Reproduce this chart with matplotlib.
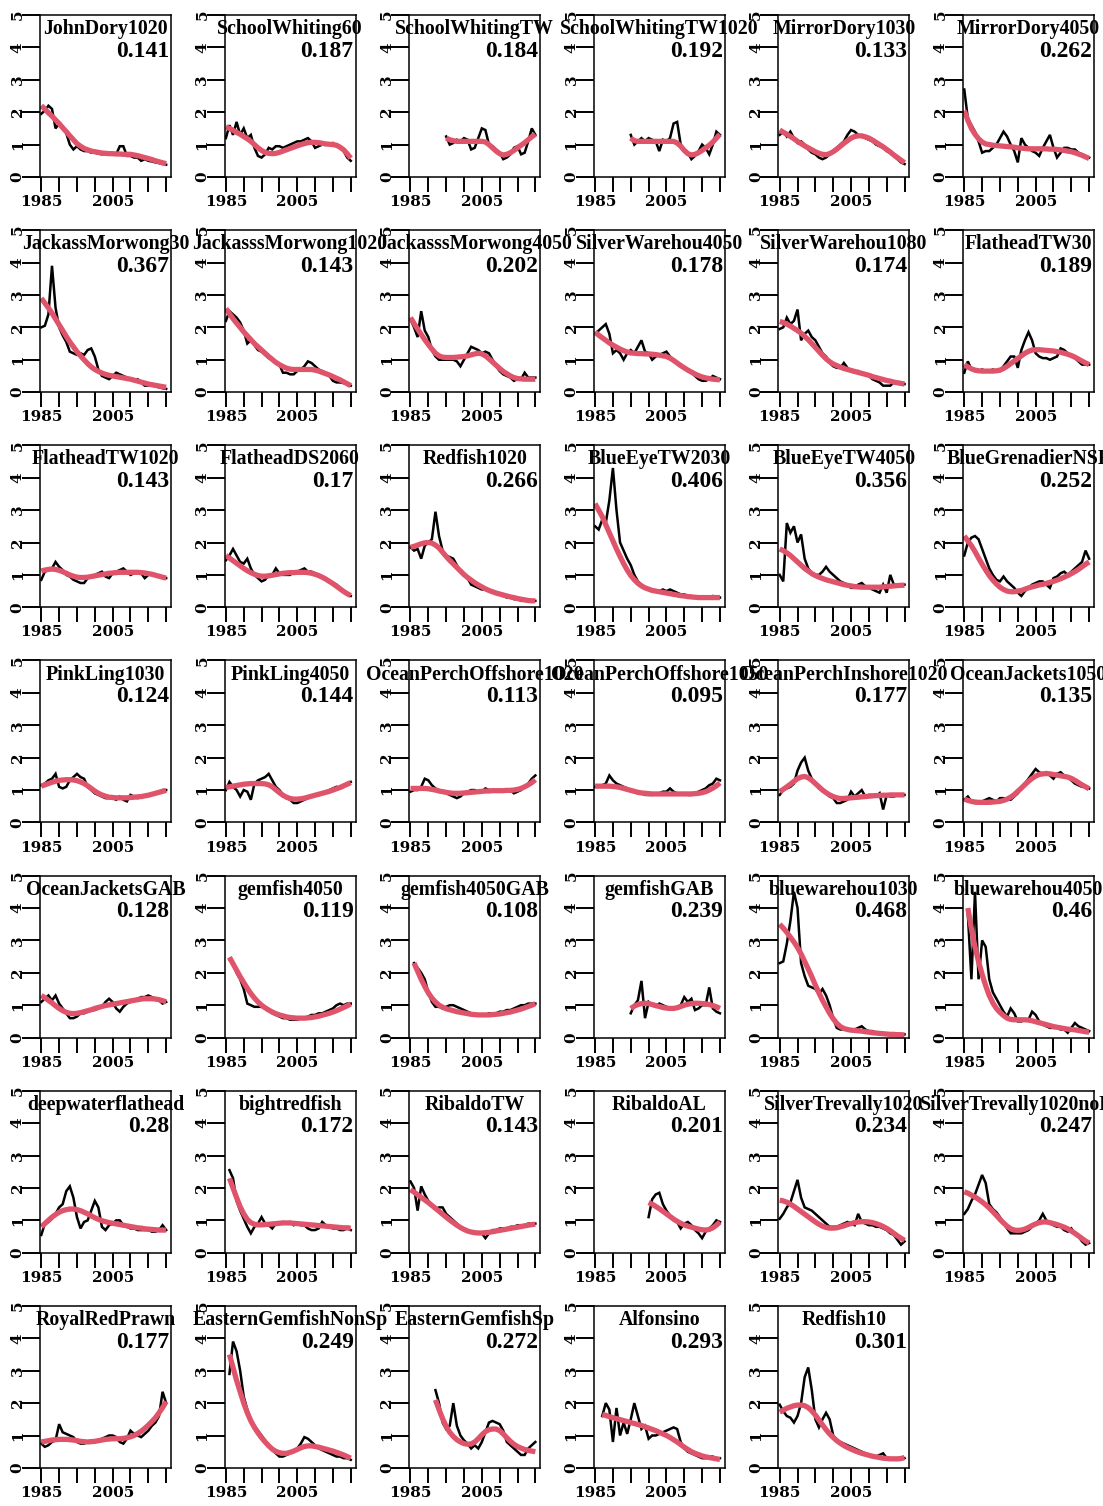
import numpy as np
import matplotlib
matplotlib.use("Agg")
import matplotlib.pyplot as plt

# standardised CPUE (black) and smoothed fit (red), one panel per fishery
obs_JohnDory1020 = [1.95, 2.05, 2.2, 2.1, 1.5, 1.65, 1.55, 1.35, 1.0, 0.85, 0.95, 0.85, 0.8, 0.8, 0.75, 0.75, 0.72, 0.7,
                    0.72, 0.7, 0.72, 0.7, 0.95, 0.95, 0.65, 0.65, 0.6, 0.6, 0.5, 0.55, 0.5, 0.48, 0.45, 0.43, 0.4, 0.38]
fit_JohnDory1020 = [2.2, 2.1, 1.98, 1.88, 1.76, 1.65, 1.52, 1.4, 1.27, 1.15, 1.03, 0.95, 0.88, 0.84, 0.8, 0.78, 0.76, 0.74,
                    0.73, 0.72, 0.72, 0.71, 0.71, 0.7, 0.7, 0.7, 0.68, 0.66, 0.63, 0.6, 0.57, 0.54, 0.5, 0.47, 0.44, 0.41]

obs_SchoolWhiting60 = [1.2, 1.6, 1.3, 1.7, 1.3, 1.5, 1.2, 1.3, 0.9, 0.65, 0.6, 0.7, 0.9, 0.85, 0.95, 0.95, 0.9, 0.95,
                       1.0, 1.05, 1.1, 1.1, 1.15, 1.2, 1.1, 0.9, 0.95, 1.0, 1.0, 1.0, 1.05, 0.95, 0.9, 0.8, 0.6, 0.5]
fit_SchoolWhiting60 = [1.55, 1.5, 1.44, 1.38, 1.32, 1.25, 1.18, 1.1, 1.0, 0.9, 0.82, 0.76, 0.73, 0.72, 0.73, 0.76, 0.8, 0.84,
                       0.88, 0.92, 0.96, 1.0, 1.03, 1.06, 1.07, 1.07, 1.06, 1.04, 1.02, 1.01, 1.0, 0.98, 0.92, 0.84, 0.72, 0.58]

obs_SchoolWhitingTW = [1.25, 1.0, 1.05, 1.15, 1.1, 1.2, 1.15, 0.85, 0.9, 1.2, 1.5, 1.45, 1.0, 0.95, 0.85, 0.75, 0.55, 0.6,
                       0.7, 0.9, 0.95, 0.7, 0.75, 1.1, 1.5, 1.3]
fit_SchoolWhitingTW = [1.2, 1.15, 1.12, 1.1, 1.1, 1.1, 1.1, 1.1, 1.1, 1.1, 1.1, 1.08, 1.0, 0.9, 0.8, 0.72, 0.68, 0.7,
                       0.75, 0.82, 0.9, 0.98, 1.06, 1.15, 1.24, 1.32]

obs_SchoolWhitingTW1020 = [1.3, 1.0, 1.1, 1.2, 1.1, 1.2, 1.15, 1.1, 0.8, 1.15, 1.1, 1.2, 1.65, 1.7, 1.0, 0.85, 0.75, 0.55,
                           0.65, 0.8, 1.0, 0.9, 0.7, 1.0, 1.4, 1.3]
fit_SchoolWhitingTW1020 = [1.2, 1.12, 1.1, 1.1, 1.1, 1.1, 1.1, 1.1, 1.1, 1.1, 1.1, 1.1, 1.1, 1.05, 0.95, 0.82, 0.72, 0.68,
                           0.7, 0.75, 0.82, 0.9, 0.98, 1.08, 1.2, 1.32]

obs_MirrorDory1030 = [1.3, 1.4, 1.25, 1.4, 1.2, 1.05, 1.1, 1.0, 0.85, 0.75, 0.7, 0.6, 0.55, 0.6, 0.7, 0.8, 0.9, 1.0,
                      1.1, 1.3, 1.45, 1.4, 1.3, 1.25, 1.2, 1.15, 1.1, 1.0, 0.95, 0.9, 0.8, 0.75, 0.65, 0.55, 0.45, 0.4]
fit_MirrorDory1030 = [1.45, 1.38, 1.32, 1.25, 1.18, 1.1, 1.03, 0.96, 0.9, 0.84, 0.78, 0.73, 0.7, 0.69, 0.72, 0.78, 0.86, 0.95,
                      1.04, 1.12, 1.2, 1.25, 1.27, 1.27, 1.24, 1.2, 1.14, 1.07, 1.0, 0.93, 0.85, 0.77, 0.68, 0.6, 0.52, 0.44]

obs_MirrorDory4050 = [2.7, 1.8, 1.6, 1.4, 1.1, 0.75, 0.8, 0.8, 0.9, 1.0, 1.2, 1.4, 1.25, 1.0, 0.8, 0.45, 1.2, 1.0,
                      0.9, 0.8, 0.75, 0.65, 0.9, 1.1, 1.3, 0.9, 0.6, 0.75, 0.9, 0.9, 0.85, 0.85, 0.75, 0.7, 0.65, 0.6]
fit_MirrorDory4050 = [2.05, 1.75, 1.5, 1.32, 1.18, 1.08, 1.02, 1.0, 0.98, 0.97, 0.96, 0.95, 0.94, 0.93, 0.92, 0.9, 0.89, 0.88,
                      0.87, 0.87, 0.87, 0.87, 0.87, 0.87, 0.86, 0.86, 0.85, 0.84, 0.82, 0.8, 0.78, 0.75, 0.71, 0.67, 0.62, 0.57]

obs_JackassMorwong30 = [2.0, 2.05, 2.4, 3.9, 2.6, 2.0, 1.75, 1.55, 1.25, 1.2, 1.15, 1.2, 1.15, 1.3, 1.35, 1.1, 0.7, 0.5,
                        0.45, 0.4, 0.5, 0.6, 0.55, 0.5, 0.45, 0.4, 0.35, 0.4, 0.3, 0.2, 0.2, 0.2, 0.18, 0.15, 0.12, 0.1]
fit_JackassMorwong30 = [2.9, 2.75, 2.6, 2.44, 2.26, 2.08, 1.9, 1.72, 1.55, 1.4, 1.25, 1.12, 1.0, 0.88, 0.78, 0.7, 0.64, 0.59,
                        0.55, 0.52, 0.5, 0.48, 0.46, 0.44, 0.42, 0.4, 0.37, 0.34, 0.31, 0.28, 0.25, 0.23, 0.21, 0.19, 0.17, 0.15]

obs_JackasssMorwong1020 = [2.2, 2.5, 2.4, 2.3, 2.15, 1.9, 1.5, 1.6, 1.45, 1.3, 1.25, 1.15, 1.05, 1.0, 0.95, 0.85, 0.6, 0.6,
                           0.55, 0.55, 0.65, 0.7, 0.8, 0.95, 0.9, 0.8, 0.7, 0.65, 0.6, 0.5, 0.35, 0.3, 0.3, 0.28, 0.25, 0.2]
fit_JackasssMorwong1020 = [2.58, 2.42, 2.27, 2.13, 2.0, 1.86, 1.74, 1.62, 1.5, 1.4, 1.3, 1.2, 1.1, 1.01, 0.92, 0.85, 0.79, 0.74,
                           0.71, 0.7, 0.7, 0.7, 0.7, 0.7, 0.7, 0.68, 0.65, 0.61, 0.57, 0.53, 0.48, 0.43, 0.38, 0.32, 0.26, 0.2]

obs_JackasssMorwong4050 = [2.25, 2.0, 1.7, 2.5, 1.9, 1.7, 1.3, 1.1, 1.0, 1.0, 1.0, 1.0, 1.0, 0.95, 0.8, 1.0, 1.2, 1.4,
                           1.35, 1.3, 1.2, 1.25, 1.2, 1.0, 0.8, 0.65, 0.55, 0.5, 0.45, 0.35, 0.4, 0.4, 0.6, 0.45, 0.45, 0.45]
fit_JackasssMorwong4050 = [2.3, 2.12, 1.95, 1.78, 1.62, 1.47, 1.33, 1.2, 1.12, 1.08, 1.07, 1.07, 1.07, 1.08, 1.09, 1.1, 1.12, 1.15,
                           1.18, 1.2, 1.18, 1.12, 1.03, 0.93, 0.83, 0.73, 0.64, 0.57, 0.5, 0.45, 0.42, 0.41, 0.4, 0.4, 0.4, 0.4]

obs_SilverWarehou4050 = [1.8, 1.9, 2.0, 2.1, 1.8, 1.2, 1.3, 1.2, 1.0, 1.2, 1.3, 1.2, 1.4, 1.6, 1.25, 1.2, 1.0, 1.1,
                         1.15, 1.2, 1.25, 1.1, 1.0, 0.9, 0.85, 0.75, 0.65, 0.6, 0.5, 0.4, 0.35, 0.35, 0.4, 0.5, 0.45, 0.4]
fit_SilverWarehou4050 = [1.85, 1.76, 1.68, 1.6, 1.52, 1.45, 1.39, 1.33, 1.28, 1.24, 1.21, 1.2, 1.19, 1.19, 1.18, 1.18, 1.17, 1.16,
                         1.14, 1.12, 1.1, 1.05, 0.98, 0.9, 0.82, 0.75, 0.68, 0.62, 0.56, 0.51, 0.47, 0.44, 0.42, 0.4, 0.39, 0.38]

obs_SilverWarehou1080 = [1.95, 2.0, 2.3, 2.1, 2.2, 2.55, 1.6, 1.8, 1.9, 1.7, 1.6, 1.4, 1.2, 1.1, 0.9, 0.8, 0.75, 0.75,
                         0.9, 0.75, 0.65, 0.6, 0.65, 0.55, 0.55, 0.5, 0.4, 0.35, 0.3, 0.2, 0.2, 0.2, 0.3, 0.3, 0.25, 0.25]
fit_SilverWarehou1080 = [2.18, 2.15, 2.1, 2.04, 1.97, 1.9, 1.82, 1.72, 1.62, 1.5, 1.38, 1.26, 1.14, 1.03, 0.94, 0.87, 0.82, 0.77,
                         0.73, 0.7, 0.67, 0.64, 0.61, 0.58, 0.55, 0.52, 0.48, 0.45, 0.42, 0.39, 0.36, 0.34, 0.31, 0.29, 0.27, 0.25]

obs_FlatheadTW30 = [0.6, 0.95, 0.7, 0.65, 0.65, 0.7, 0.65, 0.65, 0.7, 0.65, 0.65, 0.8, 0.95, 1.1, 1.1, 0.75, 1.3, 1.6,
                    1.85, 1.6, 1.2, 1.1, 1.05, 1.05, 1.0, 1.05, 1.1, 1.35, 1.3, 1.2, 1.1, 1.05, 0.95, 0.85, 0.85, 0.85]
fit_FlatheadTW30 = [0.85, 0.78, 0.72, 0.68, 0.66, 0.65, 0.65, 0.65, 0.65, 0.66, 0.68, 0.73, 0.8, 0.88, 0.96, 1.04, 1.12, 1.2,
                    1.26, 1.3, 1.31, 1.31, 1.3, 1.29, 1.28, 1.27, 1.25, 1.23, 1.2, 1.17, 1.13, 1.08, 1.02, 0.96, 0.9, 0.85]

obs_FlatheadTW1020 = [0.85, 1.1, 1.15, 1.2, 1.4, 1.25, 1.15, 1.0, 0.95, 0.85, 0.8, 0.75, 0.75, 0.9, 0.95, 1.0, 1.05, 1.1,
                      0.95, 0.9, 1.05, 1.1, 1.15, 1.2, 1.1, 1.0, 1.05, 1.1, 1.05, 0.9, 1.0, 1.05, 1.0, 0.95, 0.9, 0.9]
fit_FlatheadTW1020 = [1.12, 1.15, 1.17, 1.18, 1.17, 1.14, 1.1, 1.05, 1.0, 0.96, 0.93, 0.92, 0.92, 0.93, 0.95, 0.97, 0.99, 1.01,
                      1.03, 1.05, 1.06, 1.07, 1.08, 1.08, 1.08, 1.08, 1.08, 1.08, 1.07, 1.06, 1.04, 1.02, 0.99, 0.96, 0.93, 0.9]

obs_FlatheadDS2060 = [1.45, 1.6, 1.8, 1.6, 1.4, 1.35, 1.5, 1.2, 1.0, 0.9, 0.8, 0.85, 1.0, 1.0, 1.2, 1.05, 1.0, 1.0,
                      1.0, 1.1, 1.1, 1.15, 1.2, 1.1, 1.1, 1.05, 1.0, 0.95, 0.9, 0.8, 0.75, 0.7, 0.6, 0.5, 0.4, 0.35]
fit_FlatheadDS2060 = [1.6, 1.52, 1.44, 1.36, 1.28, 1.2, 1.13, 1.07, 1.02, 0.98, 0.96, 0.96, 0.97, 0.99, 1.01, 1.03, 1.05, 1.06,
                      1.07, 1.07, 1.08, 1.08, 1.08, 1.07, 1.05, 1.02, 0.98, 0.93, 0.87, 0.8, 0.73, 0.65, 0.57, 0.49, 0.42, 0.36]

obs_Redfish1020 = [1.85, 1.75, 1.8, 1.5, 1.9, 2.0, 2.1, 2.95, 2.2, 1.75, 1.6, 1.55, 1.5, 1.3, 1.1, 1.0, 0.9, 0.7,
                   0.65, 0.6, 0.55, 0.55, 0.5, 0.45, 0.45, 0.4, 0.35, 0.3, 0.3, 0.25, 0.25, 0.2, 0.2, 0.2, 0.2, 0.2]
fit_Redfish1020 = [1.85, 1.88, 1.92, 1.96, 1.99, 2.0, 1.98, 1.92, 1.83, 1.7, 1.57, 1.45, 1.34, 1.23, 1.12, 1.01, 0.92, 0.84,
                   0.76, 0.69, 0.63, 0.57, 0.52, 0.48, 0.44, 0.41, 0.38, 0.35, 0.32, 0.3, 0.27, 0.25, 0.23, 0.21, 0.2, 0.2]

obs_BlueEyeTW2030 = [2.5, 2.4, 2.7, 2.6, 3.3, 4.3, 3.0, 2.0, 1.75, 1.5, 1.3, 1.0, 0.8, 0.7, 0.6, 0.55, 0.5, 0.5,
                     0.5, 0.55, 0.5, 0.55, 0.5, 0.45, 0.4, 0.4, 0.35, 0.35, 0.3, 0.3, 0.3, 0.3, 0.3, 0.35, 0.3, 0.3]
fit_BlueEyeTW2030 = [3.2, 3.0, 2.8, 2.55, 2.3, 2.05, 1.8, 1.57, 1.35, 1.15, 0.98, 0.85, 0.74, 0.66, 0.6, 0.56, 0.52, 0.5,
                     0.48, 0.46, 0.44, 0.42, 0.4, 0.38, 0.36, 0.35, 0.33, 0.32, 0.31, 0.3, 0.3, 0.3, 0.3, 0.3, 0.3, 0.3]

obs_BlueEyeTW4050 = [1.0, 0.8, 2.6, 2.3, 2.5, 2.0, 2.25, 1.5, 1.2, 1.05, 1.0, 1.0, 1.1, 1.25, 1.1, 1.0, 0.9, 0.8,
                     0.75, 0.7, 0.6, 0.6, 0.7, 0.75, 0.65, 0.6, 0.55, 0.5, 0.45, 0.7, 0.45, 1.0, 0.7, 0.7, 0.7, 0.7]
fit_BlueEyeTW4050 = [1.8, 1.75, 1.68, 1.6, 1.5, 1.4, 1.3, 1.2, 1.12, 1.04, 0.98, 0.93, 0.89, 0.85, 0.82, 0.79, 0.76, 0.73,
                     0.7, 0.68, 0.66, 0.64, 0.63, 0.62, 0.62, 0.62, 0.62, 0.62, 0.62, 0.63, 0.64, 0.65, 0.66, 0.67, 0.68, 0.68]

obs_BlueGrenadierNS = [1.6, 2.0, 2.15, 2.2, 2.1, 1.8, 1.5, 1.2, 1.0, 0.85, 0.8, 0.95, 0.8, 0.7, 0.6, 0.45, 0.35, 0.5,
                       0.6, 0.7, 0.75, 0.8, 0.8, 0.7, 0.6, 0.9, 0.95, 1.05, 1.1, 1.0, 1.1, 1.2, 1.3, 1.4, 1.75, 1.5]
fit_BlueGrenadierNS = [2.2, 2.05, 1.9, 1.72, 1.52, 1.33, 1.15, 0.98, 0.84, 0.72, 0.62, 0.55, 0.5, 0.48, 0.48, 0.5, 0.52, 0.56,
                       0.6, 0.63, 0.66, 0.69, 0.71, 0.74, 0.77, 0.8, 0.84, 0.88, 0.93, 0.98, 1.04, 1.1, 1.17, 1.25, 1.33, 1.4]

obs_PinkLing1030 = [1.15, 1.2, 1.3, 1.35, 1.5, 1.1, 1.05, 1.1, 1.3, 1.4, 1.5, 1.4, 1.35, 1.1, 1.0, 0.9, 0.85, 0.8,
                    0.75, 0.75, 0.75, 0.7, 0.8, 0.7, 0.65, 0.85, 0.8, 0.75, 0.8, 0.8, 0.85, 0.9, 0.9, 0.95, 1.0, 1.0]
fit_PinkLing1030 = [1.12, 1.16, 1.2, 1.24, 1.27, 1.3, 1.31, 1.32, 1.32, 1.31, 1.29, 1.25, 1.2, 1.13, 1.05, 0.97, 0.9, 0.85,
                    0.81, 0.78, 0.77, 0.76, 0.76, 0.76, 0.76, 0.77, 0.78, 0.79, 0.8, 0.82, 0.84, 0.87, 0.9, 0.93, 0.96, 0.99]

obs_PinkLing4050 = [1.0, 1.25, 1.1, 1.0, 0.8, 1.0, 0.95, 0.7, 1.2, 1.3, 1.35, 1.4, 1.5, 1.3, 1.1, 1.0, 0.85, 0.75,
                    0.7, 0.6, 0.6, 0.65, 0.7, 0.75, 0.8, 0.85, 0.9, 0.9, 0.95, 1.0, 1.05, 1.1, 1.05, 1.1, 1.2, 1.25]
fit_PinkLing4050 = [1.08, 1.1, 1.12, 1.14, 1.16, 1.18, 1.19, 1.2, 1.2, 1.2, 1.2, 1.19, 1.16, 1.1, 1.01, 0.92, 0.84, 0.78,
                    0.74, 0.72, 0.72, 0.73, 0.75, 0.78, 0.81, 0.84, 0.87, 0.9, 0.93, 0.96, 1.0, 1.04, 1.08, 1.13, 1.18, 1.23]

obs_OceanPerchOffshore1020 = [0.95, 1.0, 1.0, 1.1, 1.35, 1.3, 1.15, 1.05, 1.0, 0.95, 0.9, 0.85, 0.8, 0.75, 0.8, 0.9, 0.95, 1.0,
                              1.0, 0.95, 0.95, 1.05, 1.0, 1.0, 1.0, 1.0, 0.95, 1.0, 1.0, 0.9, 0.95, 1.0, 1.1, 1.2, 1.35, 1.45]
fit_OceanPerchOffshore1020 = [1.05, 1.05, 1.05, 1.05, 1.05, 1.04, 1.02, 1.0, 0.97, 0.95, 0.93, 0.91, 0.9, 0.9, 0.9, 0.91, 0.92, 0.93,
                              0.94, 0.95, 0.96, 0.97, 0.97, 0.98, 0.98, 0.98, 0.98, 0.99, 0.99, 1.0, 1.02, 1.05, 1.1, 1.16, 1.23, 1.32]

obs_OceanPerchOffshore1050 = [1.1, 1.1, 1.15, 1.2, 1.45, 1.3, 1.2, 1.15, 1.1, 1.05, 1.0, 0.95, 0.9, 0.9, 0.85, 0.85, 0.85, 0.9,
                              0.9, 0.95, 0.95, 1.05, 0.95, 0.9, 0.9, 0.9, 0.85, 0.85, 0.9, 0.95, 1.0, 1.05, 1.15, 1.2, 1.35, 1.3]
fit_OceanPerchOffshore1050 = [1.12, 1.12, 1.12, 1.12, 1.12, 1.11, 1.1, 1.08, 1.05, 1.02, 0.99, 0.96, 0.93, 0.91, 0.9, 0.89, 0.88, 0.88,
                              0.88, 0.88, 0.88, 0.88, 0.88, 0.88, 0.88, 0.88, 0.88, 0.88, 0.89, 0.9, 0.92, 0.95, 1.0, 1.06, 1.13, 1.22]

obs_OceanPerchInshore1020 = [0.85, 1.0, 1.05, 1.1, 1.2, 1.6, 1.85, 2.0, 1.6, 1.35, 1.2, 1.05, 1.0, 0.9, 0.8, 0.75, 0.6, 0.6,
                             0.65, 0.7, 0.95, 0.8, 0.9, 1.0, 0.8, 0.85, 0.85, 0.8, 0.9, 0.4, 0.85, 0.8, 0.8, 0.85, 0.85, 0.85]
fit_OceanPerchInshore1020 = [0.95, 1.02, 1.1, 1.18, 1.27, 1.35, 1.4, 1.42, 1.38, 1.3, 1.2, 1.1, 1.0, 0.92, 0.85, 0.8, 0.76, 0.74,
                             0.74, 0.75, 0.76, 0.77, 0.78, 0.79, 0.8, 0.81, 0.82, 0.83, 0.83, 0.84, 0.84, 0.85, 0.85, 0.85, 0.85, 0.85]

obs_OceanJackets1050 = [0.7, 0.8, 0.65, 0.6, 0.6, 0.65, 0.7, 0.75, 0.7, 0.65, 0.75, 0.75, 0.7, 0.7, 0.8, 0.9, 1.05, 1.2,
                        1.35, 1.5, 1.65, 1.55, 1.5, 1.55, 1.45, 1.35, 1.5, 1.55, 1.45, 1.4, 1.3, 1.2, 1.15, 1.1, 1.1, 1.05]
fit_OceanJackets1050 = [0.72, 0.68, 0.65, 0.63, 0.62, 0.62, 0.62, 0.62, 0.63, 0.64, 0.65, 0.68, 0.72, 0.78, 0.86, 0.96, 1.06, 1.17,
                        1.27, 1.36, 1.43, 1.48, 1.5, 1.51, 1.5, 1.48, 1.46, 1.44, 1.42, 1.4, 1.36, 1.3, 1.23, 1.16, 1.1, 1.04]

obs_OceanJacketsGAB = [1.1, 1.2, 1.3, 1.15, 1.3, 1.05, 0.9, 0.75, 0.6, 0.6, 0.65, 0.75, 0.75, 0.8, 0.85, 0.85, 0.9, 0.95,
                       1.1, 1.2, 1.1, 0.9, 0.8, 0.95, 1.05, 1.1, 1.15, 1.2, 1.25, 1.25, 1.3, 1.25, 1.2, 1.15, 1.05, 1.1]
fit_OceanJacketsGAB = [1.3, 1.23, 1.15, 1.07, 0.98, 0.9, 0.83, 0.78, 0.75, 0.74, 0.75, 0.77, 0.8, 0.83, 0.86, 0.9, 0.93, 0.96,
                       0.99, 1.01, 1.03, 1.05, 1.07, 1.09, 1.11, 1.13, 1.15, 1.17, 1.19, 1.2, 1.2, 1.2, 1.19, 1.17, 1.14, 1.1]

obs_gemfish4050 = [2.4, 2.3, 2.0, 1.8, 1.5, 1.05, 1.0, 0.95, 0.95, 0.95, 0.9, 0.85, 0.75, 0.7, 0.65, 0.6, 0.6, 0.55,
                   0.55, 0.55, 0.6, 0.6, 0.65, 0.7, 0.7, 0.75, 0.75, 0.8, 0.85, 0.9, 1.0, 1.05, 1.0, 1.05, 1.05]
fit_gemfish4050 = [2.48, 2.28, 2.08, 1.88, 1.7, 1.52, 1.36, 1.22, 1.1, 1.0, 0.92, 0.85, 0.79, 0.74, 0.7, 0.67, 0.64, 0.62,
                   0.61, 0.6, 0.6, 0.6, 0.61, 0.62, 0.64, 0.66, 0.69, 0.72, 0.75, 0.79, 0.83, 0.88, 0.93, 0.98, 1.04]

obs_gemfish4050GAB = [2.3, 2.15, 2.0, 1.8, 1.4, 1.1, 0.95, 0.95, 0.9, 0.95, 1.0, 1.0, 0.95, 0.9, 0.85, 0.8, 0.75, 0.7,
                      0.7, 0.7, 0.7, 0.75, 0.75, 0.75, 0.8, 0.8, 0.85, 0.85, 0.9, 0.95, 1.0, 1.0, 1.05, 1.05, 1.05]
fit_gemfish4050GAB = [2.3, 2.05, 1.8, 1.58, 1.38, 1.22, 1.1, 1.0, 0.94, 0.89, 0.86, 0.83, 0.8, 0.78, 0.76, 0.74, 0.72, 0.71,
                      0.7, 0.7, 0.7, 0.7, 0.71, 0.72, 0.73, 0.75, 0.77, 0.79, 0.82, 0.85, 0.88, 0.92, 0.96, 1.0, 1.05]

obs_gemfishGAB = [0.75, 1.0, 1.15, 1.75, 0.6, 1.1, 1.0, 0.95, 1.05, 1.0, 0.95, 0.9, 0.9, 0.95, 1.0, 1.25, 1.1, 1.2,
                  0.85, 0.9, 1.0, 1.0, 1.55, 0.9, 0.8, 0.75]
fit_gemfishGAB = [0.9, 0.97, 1.02, 1.05, 1.06, 1.05, 1.02, 0.99, 0.96, 0.93, 0.91, 0.9, 0.9, 0.92, 0.96, 1.0, 1.03, 1.05,
                  1.06, 1.06, 1.05, 1.04, 1.02, 0.99, 0.95, 0.9]

obs_bluewarehou1030 = [2.3, 2.35, 2.9, 3.6, 4.5, 4.0, 2.3, 1.9, 1.6, 1.55, 1.5, 1.35, 1.5, 1.3, 1.0, 0.6, 0.3, 0.25,
                       0.25, 0.25, 0.25, 0.25, 0.3, 0.35, 0.25, 0.2, 0.2, 0.15, 0.15, 0.12, 0.1, 0.1, 0.1, 0.1, 0.1, 0.1]
fit_bluewarehou1030 = [3.5, 3.38, 3.25, 3.1, 2.95, 2.78, 2.58, 2.35, 2.12, 1.88, 1.62, 1.38, 1.15, 0.95, 0.75, 0.58, 0.44, 0.34,
                       0.28, 0.25, 0.23, 0.22, 0.21, 0.2, 0.18, 0.17, 0.15, 0.14, 0.13, 0.12, 0.11, 0.1, 0.1, 0.09, 0.09, 0.08]

obs_bluewarehou4050 = [3.8, 1.8, 4.5, 1.8, 3.0, 2.8, 1.8, 1.4, 1.2, 1.0, 0.8, 0.65, 0.9, 0.75, 0.5, 0.5, 0.55, 0.55,
                       0.8, 0.7, 0.5, 0.4, 0.35, 0.3, 0.3, 0.3, 0.25, 0.25, 0.15, 0.3, 0.45, 0.35, 0.3, 0.25, 0.2]
fit_bluewarehou4050 = [4.0, 3.35, 2.8, 2.35, 1.95, 1.6, 1.3, 1.07, 0.9, 0.78, 0.68, 0.6, 0.56, 0.55, 0.55, 0.55, 0.55, 0.54,
                       0.52, 0.49, 0.46, 0.43, 0.4, 0.37, 0.34, 0.32, 0.3, 0.28, 0.26, 0.25, 0.24, 0.22, 0.2, 0.18, 0.17]

obs_deepwaterflathead = [0.55, 0.9, 0.95, 1.05, 1.2, 1.4, 1.5, 1.9, 2.05, 1.7, 1.1, 0.75, 0.95, 1.0, 1.3, 1.6, 1.4, 0.8,
                         0.7, 0.85, 0.9, 1.0, 1.0, 0.85, 0.8, 0.75, 0.75, 0.7, 0.7, 0.7, 0.7, 0.65, 0.65, 0.7, 0.85, 0.7]
fit_deepwaterflathead = [0.8, 0.9, 1.0, 1.1, 1.18, 1.25, 1.3, 1.33, 1.35, 1.35, 1.33, 1.3, 1.25, 1.2, 1.14, 1.08, 1.03, 0.99,
                         0.96, 0.93, 0.91, 0.89, 0.87, 0.85, 0.83, 0.81, 0.79, 0.77, 0.76, 0.74, 0.73, 0.72, 0.71, 0.7, 0.7, 0.7]

obs_bightredfish = [2.55, 2.3, 1.6, 1.3, 1.05, 0.8, 0.6, 0.8, 0.9, 1.1, 0.9, 0.85, 0.75, 0.9, 0.9, 0.95, 0.9, 0.95,
                    0.85, 0.9, 0.85, 0.85, 0.75, 0.7, 0.7, 0.75, 0.95, 0.85, 0.8, 0.75, 0.75, 0.7, 0.7, 0.75, 0.7]
fit_bightredfish = [2.3, 2.0, 1.7, 1.42, 1.2, 1.03, 0.93, 0.88, 0.86, 0.86, 0.87, 0.88, 0.89, 0.9, 0.91, 0.92, 0.92, 0.92,
                    0.91, 0.9, 0.89, 0.88, 0.87, 0.86, 0.85, 0.84, 0.83, 0.82, 0.81, 0.8, 0.79, 0.78, 0.77, 0.77, 0.76]

obs_RibaldoTW = [2.2, 2.0, 1.3, 2.05, 1.8, 1.6, 1.45, 1.35, 1.4, 1.4, 1.2, 1.1, 1.0, 0.9, 0.8, 0.75, 0.7, 0.65,
                 0.65, 0.6, 0.6, 0.45, 0.6, 0.7, 0.7, 0.75, 0.75, 0.75, 0.8, 0.8, 0.85, 0.85, 0.85, 0.9, 0.9, 0.9]
fit_RibaldoTW = [1.95, 1.87, 1.79, 1.71, 1.63, 1.55, 1.46, 1.37, 1.28, 1.19, 1.1, 1.01, 0.93, 0.85, 0.78, 0.72, 0.67, 0.64,
                 0.62, 0.61, 0.61, 0.62, 0.63, 0.65, 0.67, 0.69, 0.71, 0.73, 0.75, 0.77, 0.79, 0.81, 0.83, 0.85, 0.87, 0.88]

obs_RibaldoAL = [1.1, 1.65, 1.8, 1.85, 1.5, 1.3, 1.15, 1.0, 0.95, 0.75, 0.9, 0.95, 0.85, 0.7, 0.6, 0.45, 0.65, 0.75,
                 0.85, 1.0, 0.95]
fit_RibaldoAL = [1.55, 1.5, 1.43, 1.36, 1.28, 1.2, 1.12, 1.04, 0.97, 0.91, 0.86, 0.82, 0.79, 0.76, 0.73, 0.71, 0.7, 0.72,
                 0.77, 0.85, 0.95]

obs_SilverTrevally1020 = [1.05, 1.2, 1.4, 1.55, 1.9, 2.25, 1.7, 1.4, 1.35, 1.3, 1.2, 1.1, 1.0, 0.9, 0.8, 0.8, 0.8, 0.85,
                          0.9, 0.95, 0.9, 0.85, 1.2, 0.95, 0.9, 0.85, 0.85, 0.8, 0.8, 0.75, 0.7, 0.6, 0.55, 0.4, 0.25, 0.35]
fit_SilverTrevally1020 = [1.62, 1.6, 1.56, 1.5, 1.43, 1.35, 1.27, 1.19, 1.11, 1.03, 0.95, 0.88, 0.82, 0.78, 0.76, 0.76, 0.77, 0.8,
                          0.83, 0.87, 0.9, 0.93, 0.95, 0.96, 0.96, 0.95, 0.93, 0.9, 0.86, 0.81, 0.75, 0.68, 0.6, 0.52, 0.45, 0.38]

obs_SilverTrevally1020no = [1.2, 1.35, 1.6, 1.8, 2.1, 2.4, 2.15, 1.5, 1.35, 1.25, 1.1, 0.9, 0.75, 0.6, 0.6, 0.6, 0.6, 0.65,
                            0.7, 0.8, 0.9, 1.0, 1.2, 1.0, 0.9, 0.85, 0.8, 0.8, 0.7, 0.65, 0.75, 0.6, 0.5, 0.35, 0.25, 0.3]
fit_SilverTrevally1020no = [1.88, 1.84, 1.78, 1.72, 1.65, 1.57, 1.48, 1.38, 1.27, 1.15, 1.03, 0.92, 0.82, 0.74, 0.7, 0.69, 0.7, 0.73,
                            0.78, 0.84, 0.89, 0.93, 0.95, 0.95, 0.93, 0.9, 0.87, 0.83, 0.79, 0.74, 0.67, 0.6, 0.52, 0.44, 0.36, 0.3]

obs_RoyalRedPrawn = [0.75, 0.65, 0.7, 0.8, 0.85, 1.35, 1.1, 1.05, 1.0, 0.95, 0.8, 0.75, 0.75, 0.8, 0.85, 0.85, 0.85, 0.9,
                     0.95, 1.0, 1.0, 0.95, 0.8, 0.75, 0.9, 1.15, 1.05, 1.0, 0.95, 1.05, 1.15, 1.3, 1.4, 1.6, 2.35, 2.0]
fit_RoyalRedPrawn = [0.8, 0.82, 0.84, 0.86, 0.87, 0.88, 0.88, 0.88, 0.87, 0.86, 0.84, 0.82, 0.81, 0.8, 0.81, 0.82, 0.84, 0.86,
                     0.88, 0.89, 0.9, 0.9, 0.9, 0.91, 0.93, 0.96, 1.0, 1.06, 1.13, 1.22, 1.32, 1.43, 1.55, 1.7, 1.86, 2.05]

obs_EasternGemfishNonSp = [2.9, 3.9, 3.6, 3.0, 2.2, 1.8, 1.5, 1.3, 1.15, 1.0, 0.85, 0.7, 0.55, 0.45, 0.35, 0.35, 0.4, 0.45,
                           0.5, 0.6, 0.75, 0.95, 0.9, 0.8, 0.7, 0.6, 0.55, 0.5, 0.45, 0.4, 0.35, 0.35, 0.3, 0.3, 0.25]
fit_EasternGemfishNonSp = [3.5, 3.1, 2.7, 2.35, 2.0, 1.7, 1.45, 1.25, 1.08, 0.93, 0.8, 0.68, 0.58, 0.51, 0.47, 0.45, 0.45, 0.48,
                           0.52, 0.57, 0.62, 0.66, 0.68, 0.68, 0.66, 0.64, 0.61, 0.58, 0.55, 0.52, 0.48, 0.44, 0.4, 0.35, 0.3]

obs_EasternGemfishSp = [2.4, 2.0, 1.4, 1.2, 1.3, 2.0, 1.3, 1.0, 0.85, 0.75, 0.6, 0.7, 0.6, 0.8, 1.1, 1.4, 1.45, 1.4,
                        1.35, 1.15, 0.8, 0.7, 0.6, 0.5, 0.4, 0.4, 0.6, 0.7, 0.8]
fit_EasternGemfishSp = [2.1, 1.8, 1.52, 1.28, 1.1, 0.97, 0.87, 0.8, 0.75, 0.73, 0.74, 0.8, 0.9, 1.02, 1.12, 1.18, 1.2, 1.2,
                        1.15, 1.05, 0.93, 0.82, 0.73, 0.66, 0.61, 0.57, 0.54, 0.52, 0.5]

obs_Alfonsino = [1.6, 2.0, 1.8, 0.8, 1.85, 1.0, 1.4, 1.05, 1.5, 2.0, 1.6, 1.2, 1.3, 0.9, 1.0, 1.0, 1.05, 1.1,
                 1.15, 1.2, 1.25, 1.2, 0.8, 0.6, 0.5, 0.45, 0.4, 0.35, 0.3, 0.3, 0.35, 0.35, 0.3, 0.3]
fit_Alfonsino = [1.65, 1.62, 1.58, 1.55, 1.52, 1.49, 1.46, 1.43, 1.4, 1.37, 1.34, 1.31, 1.27, 1.23, 1.19, 1.15, 1.1, 1.05,
                 1.0, 0.94, 0.87, 0.8, 0.72, 0.64, 0.57, 0.5, 0.45, 0.41, 0.37, 0.34, 0.32, 0.3, 0.28, 0.26]

obs_Redfish10 = [1.95, 1.75, 1.6, 1.55, 1.4, 1.6, 2.0, 2.8, 3.1, 2.4, 1.5, 1.25, 1.5, 1.7, 1.5, 1.0, 0.85, 0.8,
                 0.75, 0.7, 0.65, 0.6, 0.55, 0.5, 0.45, 0.4, 0.35, 0.35, 0.4, 0.45, 0.3, 0.3, 0.25, 0.25, 0.25, 0.3]
fit_Redfish10 = [1.72, 1.78, 1.84, 1.88, 1.92, 1.94, 1.94, 1.92, 1.86, 1.76, 1.63, 1.48, 1.33, 1.18, 1.05, 0.94, 0.84, 0.76,
                 0.69, 0.63, 0.58, 0.53, 0.49, 0.45, 0.42, 0.39, 0.36, 0.34, 0.32, 0.3, 0.29, 0.28, 0.28, 0.28, 0.29, 0.32]

# (title, cv shown in the corner, first year, observed, fitted)
panels = [
    ("JohnDory1020", "0.141", 1985, obs_JohnDory1020, fit_JohnDory1020),
    ("SchoolWhiting60", "0.187", 1985, obs_SchoolWhiting60, fit_SchoolWhiting60),
    ("SchoolWhitingTW", "0.184", 1995, obs_SchoolWhitingTW, fit_SchoolWhitingTW),
    ("SchoolWhitingTW1020", "0.192", 1995, obs_SchoolWhitingTW1020, fit_SchoolWhitingTW1020),
    ("MirrorDory1030", "0.133", 1985, obs_MirrorDory1030, fit_MirrorDory1030),
    ("MirrorDory4050", "0.262", 1985, obs_MirrorDory4050, fit_MirrorDory4050),
    ("JackassMorwong30", "0.367", 1985, obs_JackassMorwong30, fit_JackassMorwong30),
    ("JackasssMorwong1020", "0.143", 1985, obs_JackasssMorwong1020, fit_JackasssMorwong1020),
    ("JackasssMorwong4050", "0.202", 1985, obs_JackasssMorwong4050, fit_JackasssMorwong4050),
    ("SilverWarehou4050", "0.178", 1985, obs_SilverWarehou4050, fit_SilverWarehou4050),
    ("SilverWarehou1080", "0.174", 1985, obs_SilverWarehou1080, fit_SilverWarehou1080),
    ("FlatheadTW30", "0.189", 1985, obs_FlatheadTW30, fit_FlatheadTW30),
    ("FlatheadTW1020", "0.143", 1985, obs_FlatheadTW1020, fit_FlatheadTW1020),
    ("FlatheadDS2060", "0.17", 1985, obs_FlatheadDS2060, fit_FlatheadDS2060),
    ("Redfish1020", "0.266", 1985, obs_Redfish1020, fit_Redfish1020),
    ("BlueEyeTW2030", "0.406", 1985, obs_BlueEyeTW2030, fit_BlueEyeTW2030),
    ("BlueEyeTW4050", "0.356", 1985, obs_BlueEyeTW4050, fit_BlueEyeTW4050),
    ("BlueGrenadierNSF", "0.252", 1985, obs_BlueGrenadierNS, fit_BlueGrenadierNS),
    ("PinkLing1030", "0.124", 1985, obs_PinkLing1030, fit_PinkLing1030),
    ("PinkLing4050", "0.144", 1985, obs_PinkLing4050, fit_PinkLing4050),
    ("OceanPerchOffshore1020", "0.113", 1985, obs_OceanPerchOffshore1020, fit_OceanPerchOffshore1020),
    ("OceanPerchOffshore1050", "0.095", 1985, obs_OceanPerchOffshore1050, fit_OceanPerchOffshore1050),
    ("OceanPerchInshore1020", "0.177", 1985, obs_OceanPerchInshore1020, fit_OceanPerchInshore1020),
    ("OceanJackets1050", "0.135", 1985, obs_OceanJackets1050, fit_OceanJackets1050),
    ("OceanJacketsGAB", "0.128", 1985, obs_OceanJacketsGAB, fit_OceanJacketsGAB),
    ("gemfish4050", "0.119", 1986, obs_gemfish4050, fit_gemfish4050),
    ("gemfish4050GAB", "0.108", 1986, obs_gemfish4050GAB, fit_gemfish4050GAB),
    ("gemfishGAB", "0.239", 1995, obs_gemfishGAB, fit_gemfishGAB),
    ("bluewarehou1030", "0.468", 1985, obs_bluewarehou1030, fit_bluewarehou1030),
    ("bluewarehou4050", "0.46", 1986, obs_bluewarehou4050, fit_bluewarehou4050),
    ("deepwaterflathead", "0.28", 1985, obs_deepwaterflathead, fit_deepwaterflathead),
    ("bightredfish", "0.172", 1986, obs_bightredfish, fit_bightredfish),
    ("RibaldoTW", "0.143", 1985, obs_RibaldoTW, fit_RibaldoTW),
    ("RibaldoAL", "0.201", 2000, obs_RibaldoAL, fit_RibaldoAL),
    ("SilverTrevally1020", "0.234", 1985, obs_SilverTrevally1020, fit_SilverTrevally1020),
    ("SilverTrevally1020noEast", "0.247", 1985, obs_SilverTrevally1020no, fit_SilverTrevally1020no),
    ("RoyalRedPrawn", "0.177", 1985, obs_RoyalRedPrawn, fit_RoyalRedPrawn),
    ("EasternGemfishNonSp", "0.249", 1986, obs_EasternGemfishNonSp, fit_EasternGemfishNonSp),
    ("EasternGemfishSp", "0.272", 1992, obs_EasternGemfishSp, fit_EasternGemfishSp),
    ("Alfonsino", "0.293", 1987, obs_Alfonsino, fit_Alfonsino),
    ("Redfish10", "0.301", 1985, obs_Redfish10, fit_Redfish10),
]

x_ticks = [1985, 1990, 1995, 2000, 2005, 2010, 2015, 2020]
x_labels = ["1985", "", "", "", "2005", "", "", ""]
y_ticks = [0, 1, 2, 3, 4, 5]

W, H = 1103, 1506
fig = plt.figure(figsize=(W / 100, H / 100), dpi=100)

fit_col = "#DF536B"
serif = "Liberation Serif"
tick_font = {"family": "DejaVu Serif", "weight": "bold", "size": 11}

for i, (name, cv, start, obs, fit) in enumerate(panels):
    r, c = divmod(i, 6)
    left = 40 + c * 184.6
    top = 15 + r * 215.15
    ax = fig.add_axes([left / W, 1 - (top + 162) / H, 131 / W, 162 / H])

    yrs = np.arange(start, start + len(obs))
    ax.plot(yrs, obs, color="black", lw=1.8, solid_joinstyle="miter")
    yrs_f = np.arange(start, start + len(fit))
    ax.plot(yrs_f, fit, color=fit_col, lw=3.8, solid_capstyle="butt")

    ax.set_xlim(1984.64, 2021.36)
    ax.set_ylim(0, 5)
    ax.set_xticks(x_ticks)
    ax.set_xticklabels(x_labels, fontdict=tick_font)
    ax.set_yticks(y_ticks)
    ax.set_yticklabels([str(v) for v in y_ticks], fontdict=tick_font, rotation=90, va="center")
    ax.tick_params(axis="x", direction="out", length=11, width=1.4, pad=2)
    ax.tick_params(axis="y", direction="out", length=13, width=1.4, pad=-2)
    for s in ax.spines.values():
        s.set_linewidth(1.1)

    ax.text(0.5, 0.913, name, transform=ax.transAxes, ha="center", va="center",
            family=serif, weight="bold", fontsize=14.3, clip_on=False)
    ax.text(0.985, 0.777, cv, transform=ax.transAxes, ha="right", va="center",
            family=serif, weight="bold", fontsize=17, clip_on=False)

fig.savefig("out.png", dpi=100)
